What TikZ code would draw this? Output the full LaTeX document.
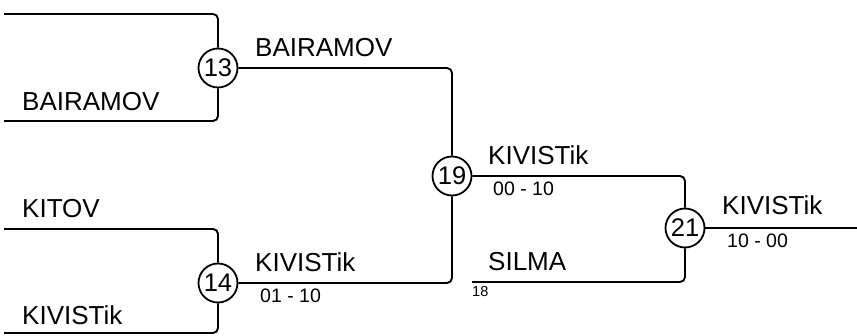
\documentclass[tikz,border=0pt]{standalone}
\usepackage{fontspec}
\setmainfont{Liberation Sans}
\usepackage{tikz}
\usetikzlibrary{positioning}

\begin{document}
\begin{tikzpicture}[x=1pt, y=-1pt]
        % Define styles
        \tikzstyle{match} = [circle, draw, line width=1.8pt, fill=white, minimum size=39pt, inner sep=0pt, font=\fontsize{25.5}{28}\selectfont]
        \tikzstyle{team} = [anchor=base west, inner sep=0pt, font=\fontsize{26}{30}\selectfont]
        \tikzstyle{score} = [anchor=base west, inner sep=0pt, font=\fontsize{19.5}{22}\selectfont]
        \tikzstyle{seed} = [anchor=base west, inner sep=0pt, font=\fontsize{14.5}{16}\selectfont]
        \tikzstyle{link} = [line width=1.9pt, rounded corners=5pt]

        \useasboundingbox (0,0) rectangle (857,336);

        % Matches
        \node[match] (m13) at (218, 68) {13};
        \node[match] (m14) at (218, 283) {14};
        \node[match] (m19) at (452, 176) {19};
        \node[match] (m21) at (685, 228) {21};

        % Free ends
        \coordinate (e1) at (4, 14);
        \coordinate (e2) at (4, 121);
        \coordinate (e3) at (4, 229);
        \coordinate (e4) at (4, 333);
        \coordinate (e5) at (472, 282);
        \coordinate (e6) at (857, 228);

        % Connections
        \draw[link] (e1) -| (m13);
        \draw[link] (e2) -| (m13);
        \draw[link] (e3) -| (m14);
        \draw[link] (e4) -| (m14);
        \draw[link] (m13) -| (m19);
        \draw[link] (m14) -| (m19);
        \draw[link] (m19) -| (m21);
        \draw[link] (e5) -| (m21);
        \draw[link] (m21) -- (e6);

        % Teams
        \node[team] (t1) at (22, 111) {BAIRAMOV};
        \node[team] (t2) at (22, 218) {KITOV};
        \node[team] (t3) at (22, 325) {KIVISTik};
        \node[team] (w13) at (255, 57) {BAIRAMOV};
        \node[team] (w14) at (255, 272) {KIVISTik};
        \node[team] (w19) at (488, 165) {KIVISTik};
        \node[team] (t4) at (488, 271) {SILMA};
        \node[team] (w21) at (722, 215) {KIVISTik};

        % Scores
        \node[score] (s14) at (260, 303) {01 - 10};
        \node[score] (s19) at (493, 196) {00 - 10};
        \node[score] (s21) at (727, 248) {10 - 00};
        \node[seed] (n18) at (472, 297) {18};

    \end{tikzpicture}
\end{document}
